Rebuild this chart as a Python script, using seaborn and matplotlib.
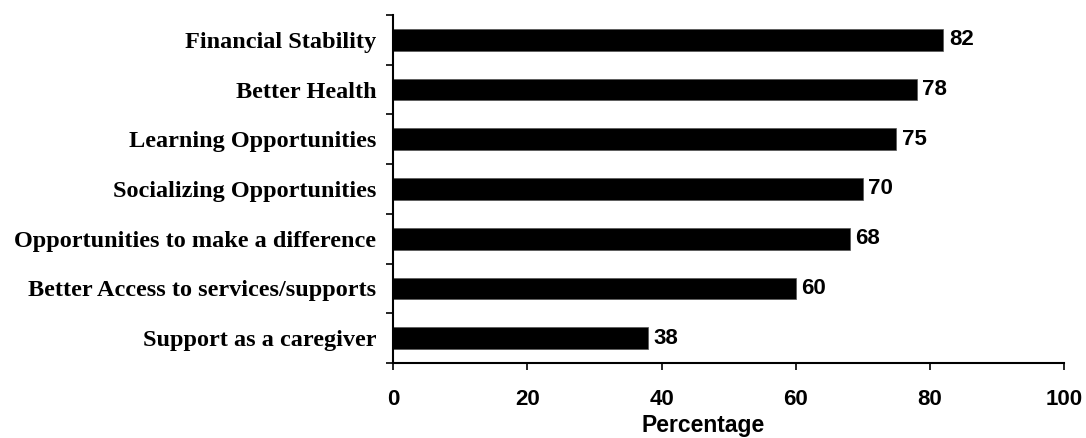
import pandas as pd
import matplotlib.pyplot as plt
from matplotlib.ticker import FixedLocator
import seaborn as sns

categories = ['Financial Stability', 'Better Health', 'Learning Opportunities',
              'Socializing Opportunities', 'Opportunities to make a difference',
              'Better Access to services/supports', 'Support as a caregiver']
values = [82, 78, 75, 70, 68, 60, 38]
xticks = [0, 20, 40, 60, 80, 100]

df = pd.DataFrame({'Category': categories, 'Percentage': values})

sns.set_style('ticks')
plt.rcParams['font.family'] = ['Liberation Sans', 'DejaVu Sans']
plt.rcParams['text.color'] = 'black'
plt.rcParams['axes.labelcolor'] = 'black'
plt.rcParams['xtick.color'] = 'black'
plt.rcParams['ytick.color'] = 'black'
plt.rcParams['axes.edgecolor'] = 'black'

fig = plt.figure(figsize=(10.86, 4.38), dpi=100)
ax = fig.add_axes([0.362, 0.171, 0.618, 0.795])

sns.barplot(data=df, x='Percentage', y='Category', color='black',
            edgecolor='#555555', linewidth=0.5, width=0.44, saturation=1, ax=ax)

# value labels at bar ends
for c in ax.containers:
    ax.bar_label(c, labels=[str(v) for v in values], padding=4,
                 fontsize=16, fontweight='bold', color='black')

ax.set_xlim(0, 100)
ax.set_ylim(len(categories) - 0.5, -0.5)
ax.set_xticks(xticks)
ax.set_xticklabels([str(t) for t in xticks], fontsize=16, fontweight='bold')
ax.tick_params(axis='x', length=5, width=1.2, pad=14)

# category labels at centres, tick marks between categories
ax.set_yticks(range(len(categories)))
ax.set_yticklabels(categories, fontsize=17.5, fontweight='bold', family='Liberation Serif')
ax.tick_params(axis='y', which='major', length=0, pad=12)
ax.yaxis.set_minor_locator(FixedLocator([i - 0.5 for i in range(len(categories) + 1)]))
ax.tick_params(axis='y', which='minor', length=5, width=1.2)

ax.set_xlabel('Percentage', fontsize=16.5, fontweight='bold')
ax.xaxis.set_label_coords(0.462, -0.145)
ax.set_ylabel('')

for s in ['top', 'right']:
    ax.spines[s].set_visible(False)
for s in ['left', 'bottom']:
    ax.spines[s].set_linewidth(1.5)

fig.savefig('out.png', dpi=100)
